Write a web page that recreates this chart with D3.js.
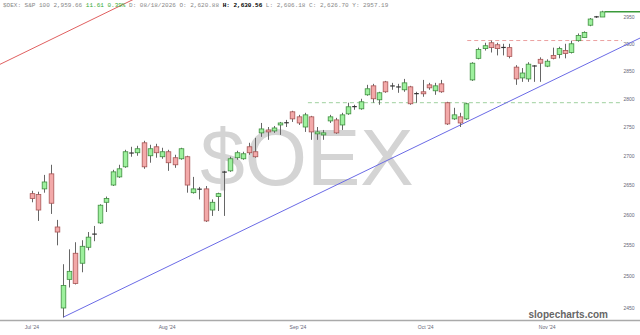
<!DOCTYPE html>
<html>
<head>
<meta charset="utf-8">
<script src="https://cdn.jsdelivr.net/npm/d3@7"></script>
<style>
  body { margin: 0; background: #fff; }
  svg { display: block; }
</style>
</head>
<body>
<div id="chart"></div>
<script>
// Daily OHLC, one value per trading day (index 0 = first candle)
const opens = [2635.5, 2633.9, 2643.5, 2669, 2580, 2450, 2495.2, 2537.1, 2521, 2546.8,
  2567.5, 2586.7, 2621, 2650, 2663.8, 2681, 2705.2, 2705.2, 2722.4, 2700,
  2715.5, 2698.3, 2706.9, 2696.6, 2694.8, 2698.3, 2637.1, 2643.5, 2643.5, 2608.1,
  2630.6, 2672.4, 2674.1, 2696.6, 2694.8, 2715.5, 2706.9, 2739.7, 2744.8, 2743.1,
  2753.6, 2757.1, 2776.8, 2767.9, 2750, 2767.9, 2738, 2736.2, 2760.7, 2762.5,
  2753.6, 2773.2, 2785.7, 2782.1, 2807.1, 2823.2, 2798.2, 2830.4, 2823.2, 2821.4,
  2816.1, 2821.4, 2808.9, 2812.5, 2825, 2814.3, 2826.8, 2792.9, 2764.3, 2767.9,
  2764.3, 2833.9, 2873.2, 2891.1, 2901.9, 2898.2, 2892.9, 2892.9, 2857.1, 2837.5,
  2835.7, 2858.9, 2871.4, 2858.9, 2878.6, 2880.4, 2887.5, 2883.9, 2905.8, 2911.5,
  2934.6, 2950, 2950];
const highs = [2640.3, 2638.7, 2667.2, 2684.5, 2591.7, 2519.4, 2543.5, 2555, 2558.3, 2571.7,
  2581.7, 2617.7, 2630.6, 2675.9, 2684.5, 2710.3, 2715.5, 2717.2, 2725.9, 2719,
  2720.7, 2713.8, 2710.3, 2701.7, 2713.8, 2700, 2663.8, 2646.8, 2648.4, 2625.8,
  2637.1, 2674.1, 2698.3, 2708.6, 2706.9, 2722.4, 2731, 2757.1, 2750, 2751.8,
  2758.9, 2762.5, 2778.6, 2771.4, 2775, 2769.6, 2750, 2744.8, 2771.4, 2766.1,
  2775, 2792.9, 2789.3, 2800, 2825, 2826.8, 2812.5, 2832.1, 2828.6, 2826.8,
  2835.7, 2823.2, 2812.5, 2833.9, 2828.6, 2828.6, 2833.9, 2794.6, 2783.9, 2775,
  2792.9, 2866.1, 2892.9, 2901.9, 2905.8, 2901.9, 2900, 2900, 2860.7, 2855.4,
  2866.1, 2860.7, 2875, 2871.4, 2892.9, 2894.6, 2900, 2905.8, 2919.2, 2923.1,
  2948.1, 2952, 2961.7];
const lows = [2621, 2590, 2637.1, 2601.6, 2550, 2435.5, 2482.3, 2487.1, 2506.5, 2541.9,
  2556.7, 2585, 2604.8, 2648.4, 2662.1, 2679.3, 2698.3, 2700, 2677.6, 2688,
  2696.6, 2694.8, 2674.1, 2679.3, 2693.1, 2637.1, 2635.5, 2625.8, 2588.3, 2598.3,
  2606.5, 2598.3, 2672.4, 2693.1, 2693.1, 2701.7, 2696.6, 2732.8, 2727.6, 2739.7,
  2736.2, 2750, 2758.9, 2753.6, 2741.4, 2727.6, 2727.6, 2727.6, 2757.1, 2738,
  2744.8, 2771.4, 2780.4, 2780.4, 2805.4, 2792.9, 2789.3, 2810.7, 2816.1, 2810.7,
  2812.5, 2789.3, 2792.9, 2803.6, 2816.1, 2807.1, 2810.7, 2753.6, 2762.5, 2750,
  2762.5, 2832.1, 2871.4, 2887.5, 2883.9, 2878.6, 2878.6, 2873.2, 2825, 2830.4,
  2830.4, 2830.4, 2830.4, 2857.1, 2871.4, 2873.2, 2873.2, 2882.1, 2903.8, 2911.5,
  2932.7, 2948.1, 2950];
const closes = [2627.4, 2608.1, 2655.2, 2619.4, 2571.7, 2485.5, 2508, 2488.7, 2548.4, 2563.3,
  2568.3, 2616.1, 2627.4, 2672.4, 2677.6, 2706.9, 2704.7, 2712.1, 2681, 2712.1,
  2705.2, 2706.9, 2688, 2684.5, 2712.1, 2650, 2643.5, 2643, 2590, 2621,
  2635.5, 2672, 2694.8, 2705.2, 2703.4, 2705.2, 2698.3, 2746.6, 2741.4, 2748.3,
  2757.1, 2757.5, 2764.3, 2757.1, 2771.4, 2741.4, 2741.4, 2739.7, 2767.9, 2739.7,
  2771.4, 2785.7, 2786, 2794.6, 2817.9, 2800, 2810.7, 2812.5, 2823, 2821.2,
  2828.6, 2791.1, 2809.2, 2808.9, 2819.6, 2823.2, 2812.5, 2755.4, 2771.4, 2757.1,
  2791.1, 2864.3, 2889.3, 2896.4, 2892.9, 2891.1, 2893.2, 2876.8, 2835.7, 2846.4,
  2862.5, 2859.2, 2864.3, 2867.9, 2873.2, 2891.1, 2882.1, 2900, 2915.4, 2921.2,
  2946.2, 2950.3, 2959.7];

// Axis labels
const monthLabels = ["Jul '24", "Aug '24", "Sep '24", "Oct '24", "Nov '24"];
const monthPos = [0, 21.8, 42.9, 63.5, 83.1];
const priceTicks = [2450, 2500, 2550, 2600, 2650, 2700, 2750, 2800, 2850, 2900, 2950];

// Drawn annotations: [index, price] anchor pairs
const trendAnchors = [[5, 2435.5], [90, 2866]];
const channelAnchors = [[-5.2, 2862], [16.3, 2983]];
const levelStart = [44.5, 70.2];
const levelPrice = [2793, 2906];

const W = 640, H = 335;

const svg = d3.select('#chart')
    .append('svg')
    .attr('width', W)
    .attr('height', H);

const x = d3.scaleLinear()
    .domain([0, opens.length - 1])
    .range([32, 602.4]);

const y = d3.scaleLog()
    .domain([2450, 2950])
    .range([308, 17]);

const bodyW = 4.6;
const plotRight = 640;

// Watermark
svg.append('text')
    .attr('x', 307)
    .attr('y', 185)
    .attr('text-anchor', 'middle')
    .style('font-family', '"Liberation Sans", Arial, sans-serif')
    .style('font-size', '80px')
    .style('fill', '#d4d4d4')
    .text('$OEX');

// Bottom axis line
svg.append('line')
    .attr('x1', 0).attr('x2', W)
    .attr('y1', 320.5).attr('y2', 320.5)
    .attr('stroke', '#aaa')
    .attr('stroke-width', 1.5);

// Month labels
svg.append('g')
    .selectAll('text')
    .data(monthLabels)
    .join('text')
    .attr('x', (d, i) => x(monthPos[i]))
    .attr('y', 328.5)
    .attr('text-anchor', 'middle')
    .style('font-family', '"Liberation Sans", Arial, sans-serif')
    .style('font-size', '5px')
    .style('fill', '#667')
    .text(d => d);

// Price labels (right side)
svg.append('g')
    .selectAll('text')
    .data(priceTicks)
    .join('text')
    .attr('x', 629)
    .attr('y', d => y(d) + 1.8)
    .attr('text-anchor', 'middle')
    .style('font-family', '"Liberation Sans", Arial, sans-serif')
    .style('font-size', '5px')
    .style('fill', '#667')
    .text(d => d);

// Horizontal levels
const levelColors = ['#9fd09f', '#eba0a0'];
levelPrice.forEach((p, i) => {
    svg.append('line')
        .attr('x1', x(levelStart[i]))
        .attr('x2', 622)
        .attr('y1', y(p))
        .attr('y2', y(p))
        .attr('stroke', levelColors[i])
        .attr('stroke-width', 1)
        .attr('stroke-dasharray', '4,3');
});

// Sloped lines, extended to the plot edges
function drawSloped(anchors, color) {
    const [a, b] = anchors;
    const x1 = x(a[0]), y1 = y(a[1]);
    const x2 = x(b[0]), y2 = y(b[1]);
    const slope = (y2 - y1) / (x2 - x1);
    const endX = plotRight;
    svg.append('line')
        .attr('x1', x1).attr('y1', y1)
        .attr('x2', endX).attr('y2', y1 + slope * (endX - x1))
        .attr('stroke', color)
        .attr('stroke-width', 1);
}
drawSloped(trendAnchors, '#6b6be6');
drawSloped(channelAnchors, '#e06060');

// Candles
const candles = opens.map((o, i) => ({
    i, o, h: highs[i], l: lows[i], c: closes[i]
}));

const g = svg.append('g');

g.selectAll('line.wick')
    .data(candles)
    .join('line')
    .attr('class', 'wick')
    .attr('x1', d => Math.round(x(d.i)) + 0.5)
    .attr('x2', d => Math.round(x(d.i)) + 0.5)
    .attr('y1', d => y(d.h))
    .attr('y2', d => y(d.l))
    .attr('stroke', '#666')
    .attr('stroke-width', 1);

const isDoji = d => Math.abs(y(d.o) - y(d.c)) < 1.2;

g.selectAll('rect.body')
    .data(candles.filter(d => !isDoji(d)))
    .join('rect')
    .attr('class', 'body')
    .attr('x', d => Math.round(x(d.i)) + 0.5 - bodyW / 2)
    .attr('width', bodyW)
    .attr('y', d => y(Math.max(d.o, d.c)))
    .attr('height', d => Math.abs(y(d.o) - y(d.c)))
    .attr('fill', d => d.c > d.o ? '#9df09d' : '#f3a9a9')
    .attr('stroke', d => d.c > d.o ? '#3f8f3f' : '#a85555')
    .attr('stroke-width', 0.8);

g.selectAll('line.doji')
    .data(candles.filter(isDoji))
    .join('line')
    .attr('class', 'doji')
    .attr('x1', d => Math.round(x(d.i)) + 0.5 - bodyW / 2)
    .attr('x2', d => Math.round(x(d.i)) + 0.5 + bodyW / 2)
    .attr('y1', d => y(d.c))
    .attr('y2', d => y(d.c))
    .attr('stroke', '#333')
    .attr('stroke-width', 1.2);

// Last price line
const last = candles[candles.length - 1];
svg.append('line')
    .attr('x1', Math.round(x(last.i)) + 0.5 + bodyW / 2)
    .attr('x2', W)
    .attr('y1', y(last.c))
    .attr('y2', y(last.c))
    .attr('stroke', '#3a9a3a')
    .attr('stroke-width', 1.5);

// Header line
const header = svg.append('text')
    .attr('x', 3)
    .attr('y', 7)
    .attr('xml:space', 'preserve')
    .style('font-family', '"Liberation Mono", "DejaVu Sans Mono", monospace')
    .style('font-size', '6px')
    .style('fill', '#888');
header.append('tspan').text('$OEX: S&P 100 2,959.66 ');
header.append('tspan').style('fill', '#3a3').text('11.61 0.39%');
header.append('tspan').text(' D: 08/18/2026 O: 2,620.88 ');
header.append('tspan').style('fill', '#000').style('font-weight', 'bold').text('H: 2,630.56');
header.append('tspan').text(' L: 2,606.18 C: 2,626.70 Y: 2957.19');

// Brand
svg.append('text')
    .attr('x', 608)
    .attr('y', 318)
    .attr('text-anchor', 'end')
    .style('font-family', '"Liberation Sans", Arial, sans-serif')
    .style('font-size', '10px')
    .style('font-weight', 'bold')
    .style('fill', '#666')
    .text('slopecharts.com');
</script>
</body>
</html>
